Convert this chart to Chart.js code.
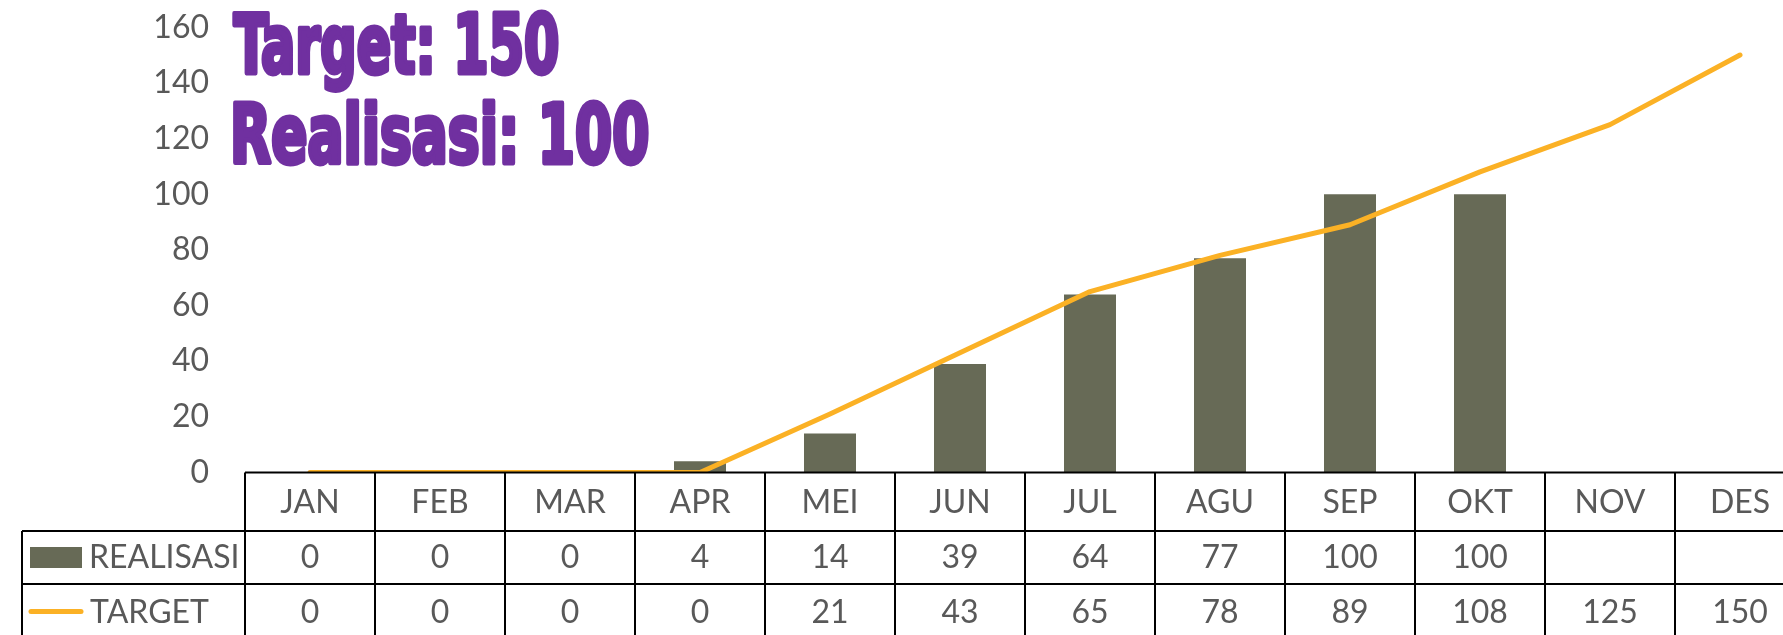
<!DOCTYPE html>
<html>
<head>
<meta charset="utf-8">
<script src="https://cdn.jsdelivr.net/npm/chart.js@4/dist/chart.umd.min.js"></script>
<style>
  html, body { margin: 0; padding: 0; overflow: hidden; background: #ffffff; width: 1783px; height: 635px; }
  #wrap { position: absolute; left: 0; top: 0; width: 1805px; height: 635px; }
  canvas { display: block; }
</style>
</head>
<body>
<div id="wrap"><canvas id="c" width="1805" height="635" style="width:1805px;height:635px"></canvas></div>
<script>
// ---- data ----
const months = ['JAN', 'FEB', 'MAR', 'APR', 'MEI', 'JUN', 'JUL', 'AGU', 'SEP', 'OKT', 'NOV', 'DES'];
const realisasi = [0, 0, 0, 4, 14, 39, 64, 77, 100, 100, null, null];
const target = [0, 0, 0, 0, 21, 43, 65, 78, 89, 108, 125, 150];
const yMin = 0;
const yMax = 160;
const yStep = 20;
const seriesNames = ['REALISASI', 'TARGET'];
const titleLines = ['Target: 150', 'Realisasi: 100'];

// ---- styles ----
const barColor = '#676A56';
const lineColor = '#FBB125';
const textColor = '#595959';
const titleColor = '#7030A0';
const baseFont = "Lato, 'Open Sans', sans-serif";

Chart.defaults.font.family = baseFont;
Chart.defaults.color = textColor;

function drawStretched(ctx, text, left, baseline, capH, width) {
  ctx.save();
  ctx.font = "bold 100px 'Liberation Sans Narrow', 'DejaVu Sans Condensed', 'DejaVu Sans', sans-serif";
  ctx.textAlign = 'left';
  ctx.textBaseline = 'alphabetic';
  const m = ctx.measureText(text);
  const capAsc = ctx.measureText('T').actualBoundingBoxAscent;
  const sy = capH / capAsc;
  const sx = width / (m.actualBoundingBoxLeft + m.actualBoundingBoxRight + 6);
  ctx.translate(left + (m.actualBoundingBoxLeft + 3) * sx, baseline);
  ctx.scale(sx, sy);
  ctx.fillStyle = titleColor;
  ctx.strokeStyle = titleColor;
  ctx.lineWidth = 6;
  ctx.lineJoin = 'round';
  ctx.fillText(text, 0, 0);
  ctx.strokeText(text, 0, 0);
  ctx.restore();
}

const tablePlugin = {
  id: 'dataTable',
  afterDraw(chart) {
    const ctx = chart.ctx;
    const area = chart.chartArea;
    const xs = chart.scales.x;
    const n = months.length;
    const colW = (area.right - area.left) / n;
    const y0 = area.bottom;
    const headerH = 58.5;
    const rowH = 53;
    const y1 = y0 + headerH;
    const y2 = y1 + rowH;
    const y3 = y2 + rowH;
    const tableLeft = 22;

    ctx.save();
    ctx.strokeStyle = '#000000';
    ctx.lineWidth = 2;
    ctx.beginPath();
    ctx.moveTo(area.left, y0); ctx.lineTo(area.right, y0);
    ctx.moveTo(tableLeft, y1); ctx.lineTo(area.right, y1);
    ctx.moveTo(tableLeft, y2); ctx.lineTo(area.right, y2);
    ctx.moveTo(tableLeft, y3); ctx.lineTo(area.right, y3);
    for (let i = 0; i <= n; i++) {
      const x = area.left + i * colW;
      ctx.moveTo(x, y0); ctx.lineTo(x, y3);
    }
    ctx.moveTo(tableLeft, y1); ctx.lineTo(tableLeft, y3);
    ctx.stroke();

    ctx.fillStyle = textColor;
    ctx.font = '32px ' + baseFont;
    ctx.textAlign = 'center';
    ctx.textBaseline = 'alphabetic';
    for (let i = 0; i < n; i++) {
      const cx = xs.getPixelForValue(i);
      ctx.fillText(months[i], cx, y0 + 40.5);
      if (realisasi[i] !== null) ctx.fillText(String(realisasi[i]), cx, y1 + 37);
      ctx.fillText(String(target[i]), cx, y2 + 38.5);
    }

    // legend keys
    ctx.fillStyle = barColor;
    ctx.fillRect(30, y1 + 16, 52, 21);
    ctx.strokeStyle = lineColor;
    ctx.lineWidth = 5;
    ctx.lineCap = 'round';
    ctx.beginPath();
    ctx.moveTo(31, y2 + 27.5); ctx.lineTo(81, y2 + 27.5);
    ctx.stroke();

    ctx.fillStyle = textColor;
    ctx.textAlign = 'left';
    ctx.fillText(seriesNames[0], 89, y1 + 37);
    ctx.fillText(seriesNames[1], 90, y2 + 38.5);
    ctx.restore();

    // title annotations
    drawStretched(ctx, titleLines[0], 232, 73, 60, 327);
    drawStretched(ctx, titleLines[1], 233, 163, 60, 416);
  }
};

new Chart(document.getElementById('c'), {
  data: {
    labels: months,
    datasets: [
      {
        type: 'line',
        label: seriesNames[1],
        data: target,
        borderColor: lineColor,
        backgroundColor: lineColor,
        borderWidth: 5,
        pointRadius: 0,
        tension: 0,
        borderCapStyle: 'round',
        borderJoinStyle: 'round',
        order: 1
      },
      {
        type: 'bar',
        label: seriesNames[0],
        data: realisasi,
        backgroundColor: barColor,
        borderWidth: 0,
        barPercentage: 0.4,
        categoryPercentage: 1.0,
        order: 2
      }
    ]
  },
  options: {
    responsive: false,
    devicePixelRatio: 1,
    animation: false,
    layout: { padding: { top: 27.2, bottom: 162.5, left: 0, right: 0 } },
    plugins: {
      legend: { display: false },
      tooltip: { enabled: false },
      title: { display: false }
    },
    scales: {
      x: {
        type: 'category',
        display: false,
        offset: true
      },
      y: {
        min: yMin,
        max: yMax,
        border: { display: false },
        grid: { display: false, drawTicks: false },
        ticks: {
          stepSize: yStep,
          padding: 36,
          color: textColor,
          font: { size: 32, family: baseFont }
        },
        afterFit(scale) {
          scale.width = 245;
          scale.paddingTop = 0;
          scale.paddingBottom = 0;
        }
      }
    }
  },
  plugins: [tablePlugin]
});
</script>
</body>
</html>
